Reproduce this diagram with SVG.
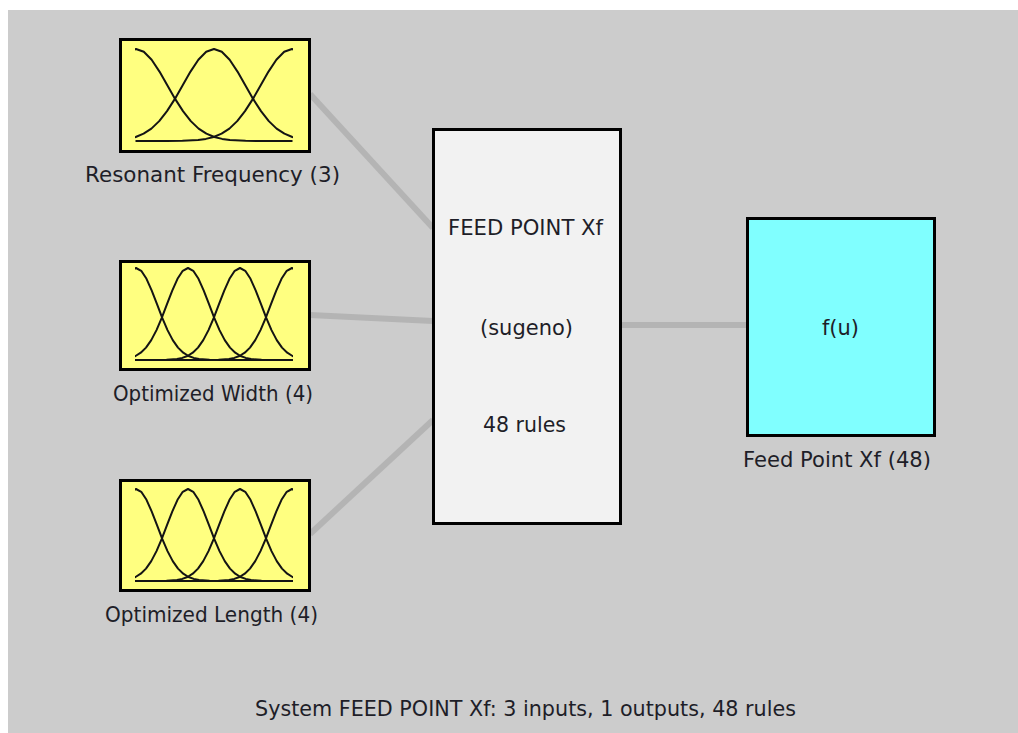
<svg xmlns="http://www.w3.org/2000/svg" xmlns:xlink="http://www.w3.org/1999/xlink" width="1018" height="733" viewBox="0 0 1018 733">
  <style>
    .panel { fill: #cccccc; }
    .box { stroke: #000000; stroke-width: 3; }
    .input { fill: #ffff80; }
    .engine { fill: #f2f2f2; }
    .output { fill: #80ffff; }
    .mf { fill: none; stroke: #141414; stroke-width: 2; stroke-linejoin: round; }
    .wire { stroke: #b4b4b4; stroke-width: 6; fill: none; }
    .label { font-family: "DejaVu Sans", "Liberation Sans", sans-serif; font-size: 20.5px; fill: #1e1e28; text-anchor: middle; }
  </style>
  <defs>
    <!-- Gaussian membership curves (peak at x=0, top y=0, zero level y=92) -->
    <path id="gaussWide" class="mf" d="M-156.5,92 L-125.2,92 L-109.6,91.8 L-93.9,91 L-86.1,89.9 L-78.3,88 L-70.4,84.7 L-62.6,79.6 L-54.8,72.1 L-47,62.1 L-39.1,49.9 L-31.3,36.2 L-23.5,22.6 L-15.65,10.8 L-7.8,2.8 L0,0 L7.8,2.8 L15.65,10.8 L23.5,22.6 L31.3,36.2 L39.1,49.9 L47,62.1 L54.8,72.1 L62.6,79.6 L70.4,84.7 L78.3,88 L86.1,89.9 L93.9,91 L109.6,91.8 L125.2,92 L156.5,92"/>
    <path id="gaussNarrow" class="mf" d="M-157.5,92 L-84,92 L-73.5,91.8 L-63,91 L-57.75,89.9 L-52.5,88 L-47.25,84.7 L-42,79.6 L-36.75,72.1 L-31.5,62.1 L-26.25,49.9 L-21,36.2 L-15.75,22.6 L-10.5,10.8 L-5.25,2.8 L0,0 L5.25,2.8 L10.5,10.8 L15.75,22.6 L21,36.2 L26.25,49.9 L31.5,62.1 L36.75,72.1 L42,79.6 L47.25,84.7 L52.5,88 L57.75,89.9 L63,91 L73.5,91.8 L84,92 L157.5,92"/>
    <clipPath id="plotRange" clipPathUnits="userSpaceOnUse">
      <rect x="135" y="0" width="158" height="733"/>
    </clipPath>
  </defs>

  <!-- window background -->
  <rect x="0" y="0" width="1018" height="733" fill="#ffffff"/>
  <rect class="panel" x="8" y="10" width="1010" height="723"/>

  <!-- connectors -->
  <g id="connectors">
    <line class="wire" x1="310" y1="94" x2="433" y2="228"/>
    <line class="wire" x1="310" y1="315" x2="433" y2="321"/>
    <line class="wire" x1="310" y1="534" x2="433" y2="420"/>
    <line class="wire" x1="620" y1="325" x2="747" y2="325"/>
  </g>

  <!-- input 1 -->
  <g id="input-resonant-frequency">
    <rect class="box input" x="120.5" y="39.5" width="189" height="112"/>
    <g clip-path="url(#plotRange)">
      <use xlink:href="#gaussWide" transform="translate(136,49)"/>
      <use xlink:href="#gaussWide" transform="translate(214,49)"/>
      <use xlink:href="#gaussWide" transform="translate(292,49)"/>
    </g>
    <text class="label" x="212.5" y="182" textLength="255" lengthAdjust="spacingAndGlyphs">Resonant Frequency (3)</text>
  </g>

  <!-- input 2 -->
  <g id="input-optimized-width">
    <rect class="box input" x="120.5" y="261.5" width="189" height="108"/>
    <g clip-path="url(#plotRange)">
      <use xlink:href="#gaussNarrow" transform="translate(136,268)"/>
      <use xlink:href="#gaussNarrow" transform="translate(188,268)"/>
      <use xlink:href="#gaussNarrow" transform="translate(240,268)"/>
      <use xlink:href="#gaussNarrow" transform="translate(292,268)"/>
    </g>
    <text class="label" x="213" y="401" textLength="200" lengthAdjust="spacingAndGlyphs">Optimized Width (4)</text>
  </g>

  <!-- input 3 -->
  <g id="input-optimized-length">
    <rect class="box input" x="120.5" y="480.5" width="189" height="110"/>
    <g clip-path="url(#plotRange)">
      <use xlink:href="#gaussNarrow" transform="translate(136,489)"/>
      <use xlink:href="#gaussNarrow" transform="translate(188,489)"/>
      <use xlink:href="#gaussNarrow" transform="translate(240,489)"/>
      <use xlink:href="#gaussNarrow" transform="translate(292,489)"/>
    </g>
    <text class="label" x="211.5" y="622" textLength="213" lengthAdjust="spacingAndGlyphs">Optimized Length (4)</text>
  </g>

  <!-- inference engine -->
  <g id="engine">
    <rect class="box engine" x="433.5" y="129.5" width="187" height="394"/>
    <text class="label" x="525.5" y="235" textLength="155" lengthAdjust="spacingAndGlyphs">FEED POINT Xf</text>
    <text class="label" x="526.5" y="335" textLength="93" lengthAdjust="spacingAndGlyphs">(sugeno)</text>
    <text class="label" x="524.5" y="432" textLength="83" lengthAdjust="spacingAndGlyphs">48 rules</text>
  </g>

  <!-- output -->
  <g id="output-feed-point">
    <rect class="box output" x="747.5" y="218.5" width="187" height="217"/>
    <text class="label" x="840.5" y="335" textLength="37" lengthAdjust="spacingAndGlyphs">f(u)</text>
    <text class="label" x="837" y="467" textLength="188" lengthAdjust="spacingAndGlyphs">Feed Point Xf (48)</text>
  </g>

  <!-- status line -->
  <text id="status" class="label" x="525.5" y="716" textLength="541" lengthAdjust="spacingAndGlyphs">System FEED POINT Xf: 3 inputs, 1 outputs, 48 rules</text>
</svg>
